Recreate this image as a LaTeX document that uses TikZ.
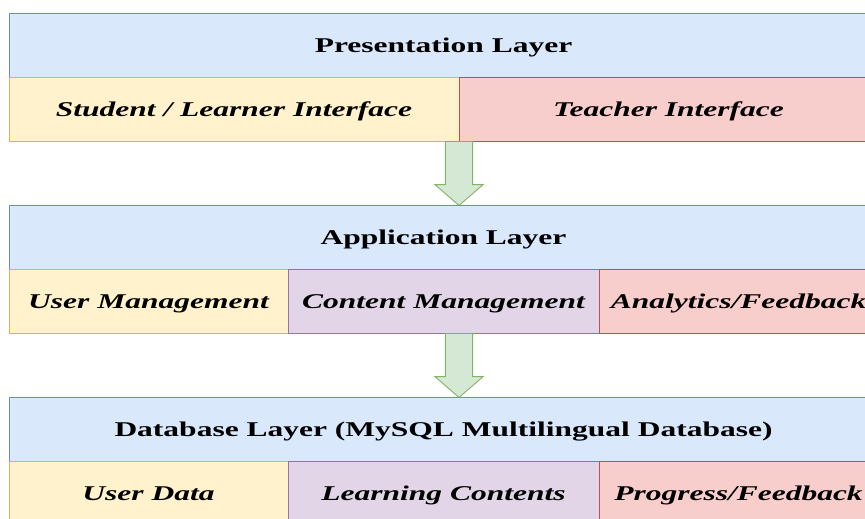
\documentclass[tikz,border=0pt]{standalone}
\usepackage{fontspec}
\setmainfont{Liberation Serif}[FakeStretch=1.5]
\usetikzlibrary{shapes.arrows}

\definecolor{headfill}{HTML}{DAE8FC}
\definecolor{headline}{HTML}{6C8EBF}
\definecolor{yelfill}{HTML}{FFF2CC}
\definecolor{yelline}{HTML}{D6B656}
\definecolor{redfill}{HTML}{F8CECC}
\definecolor{redline}{HTML}{B85450}
\definecolor{purfill}{HTML}{E1D5E7}
\definecolor{purline}{HTML}{9673A6}
\definecolor{grnfill}{HTML}{D5E8D4}
\definecolor{grnline}{HTML}{82B366}

\tikzstyle{box} = [draw, rectangle, line width=0.9pt, inner sep=0pt, outer sep=0pt, text height=14pt, text depth=0pt, minimum height=64pt, anchor=north west, font=\fontsize{21}{25}\selectfont]
\tikzstyle{head} = [box, fill=headfill, draw=headline, minimum width=869pt, font=\fontsize{21}{25}\selectfont\bfseries]
\tikzstyle{yel} = [box, fill=yelfill, draw=yelline, font=\fontsize{21}{25}\selectfont\bfseries\itshape]
\tikzstyle{red} = [box, fill=redfill, draw=redline, font=\fontsize{21}{25}\selectfont\bfseries\itshape]
\tikzstyle{pur} = [box, fill=purfill, draw=purline, font=\fontsize{21}{25}\selectfont\bfseries\itshape]
\tikzstyle{flow} = [draw=grnline, fill=grnfill, line width=0.9pt, shape=single arrow, rotate=-90, anchor=tail, inner sep=0pt, outer sep=0pt, inner ysep=9pt, minimum height=64pt, minimum width=48pt, single arrow tip angle=98]

\begin{document}
\begin{tikzpicture}[x=1pt, y=-1pt]
        \clip (0,0) rectangle (865,519);

        % Presentation layer
        \node[head] (pres) at (9,13.5) {Presentation Layer};
        \node[yel, minimum width=450pt] (stud) at (pres.south west) {Student / Learner Interface};
        \node[red, minimum width=419pt] (teach) at (stud.north east) {Teacher Interface};

        \node[flow] (arrA) at (stud.south east) {};

        % Application layer
        \node[head] (app) at (stud.south west |- arrA.tip) {Application Layer};
        \node[yel, minimum width=279pt] (umgmt) at (app.south west) {User Management};
        \node[pur, minimum width=311pt] (cmgmt) at (umgmt.north east) {Content Management};
        \node[red, minimum width=279pt] (anfb) at (cmgmt.north east) {Analytics/Feedback};

        \node[flow] (arrB) at (arrA.tail |- umgmt.south) {};

        % Database layer
        \node[head] (db) at (umgmt.south west |- arrB.tip) {Database Layer (MySQL Multilingual Database)};
        \node[yel, minimum width=279pt] (udata) at (db.south west) {User Data};
        \node[pur, minimum width=311pt] (lcont) at (udata.north east) {Learning Contents};
        \node[red, minimum width=279pt] (pfb) at (lcont.north east) {Progress/Feedback};

      \end{tikzpicture}
\end{document}
